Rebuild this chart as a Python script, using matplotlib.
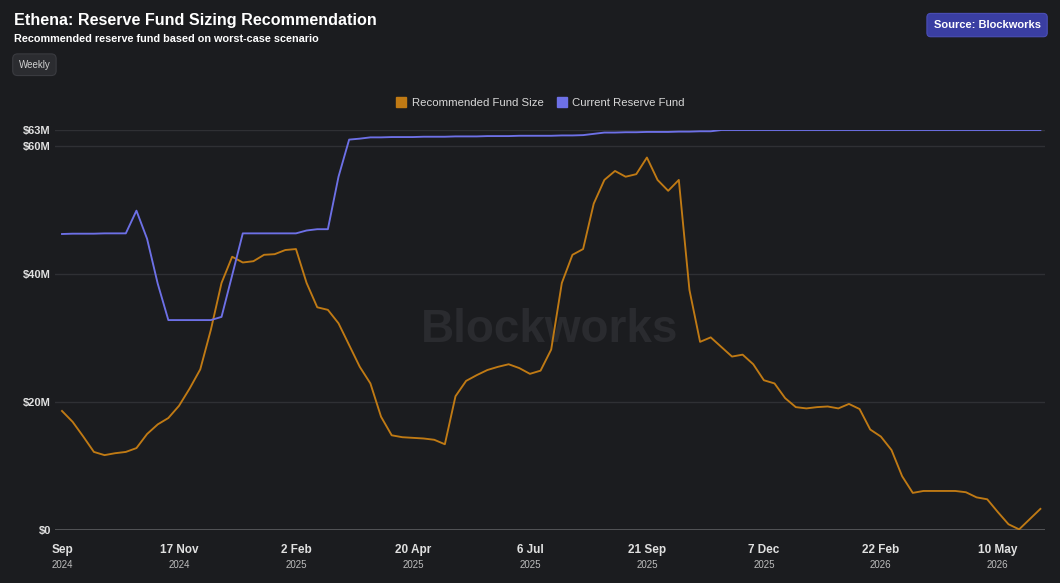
import matplotlib.pyplot as plt
import pandas as pd

# weekly series, starting Sun 1 Sep 2024 (values in $M)
recommended = [
    18.6, 16.9, 14.6, 12.2, 11.7, 12.0, 12.2, 12.8, 15.0, 16.5,
    17.5, 19.4, 22.1, 25.1, 31.3, 38.6, 42.7, 41.8, 42.0, 43.0,
    43.1, 43.75, 43.9, 38.6, 34.8, 34.4, 32.3, 28.9, 25.5, 22.9,
    17.7, 14.8, 14.5, 14.4, 14.3, 14.1, 13.4, 20.9, 23.3, 24.2,
    25.0, 25.5, 25.9, 25.3, 24.4, 24.9, 28.2, 38.6, 43.0, 43.9,
    51.0, 54.7, 56.1, 55.2, 55.6, 58.2, 54.7, 53.0, 54.7, 37.5,
    29.4, 30.1, 28.6, 27.1, 27.4, 25.9, 23.4, 22.9, 20.6, 19.2,
    19.0, 19.2, 19.3, 19.0, 19.7, 18.9, 15.7, 14.6, 12.5, 8.4,
    5.8, 6.1, 6.1, 6.1, 6.1, 5.9, 5.1, 4.8, 2.8, 0.9,
    0.1, 1.7, 3.3,
]
current = [
    46.25, 46.3, 46.3, 46.3, 46.35, 46.35, 46.35, 49.9, 45.5, 38.5,
    32.8, 32.8, 32.8, 32.8, 32.8, 33.3, 39.8, 46.35, 46.35, 46.35,
    46.35, 46.35, 46.35, 46.8, 47.0, 47.0, 55.2, 61.0, 61.15, 61.35,
    61.35, 61.4, 61.4, 61.4, 61.45, 61.45, 61.45, 61.5, 61.5, 61.5,
    61.55, 61.55, 61.55, 61.6, 61.6, 61.6, 61.6, 61.65, 61.65, 61.7,
    61.9, 62.1, 62.1, 62.15, 62.15, 62.2, 62.2, 62.2, 62.25, 62.25,
    62.3, 62.3, 62.5, 62.5, 62.5, 62.5, 62.5, 62.5, 62.5, 62.5,
    62.5, 62.5, 62.5, 62.5, 62.5, 62.5, 62.5, 62.5, 62.5, 62.5,
    62.5, 62.5, 62.5, 62.5, 62.5, 62.5, 62.5, 62.5, 62.5, 62.5,
    62.5, 62.5, 62.5,
]
weeks = pd.date_range("2024-09-01", periods=len(recommended), freq="W-SUN")

tick_idx = [0, 11, 22, 33, 44, 55, 66, 77, 88]
tick_month = ["Sep", "17 Nov", "2 Feb", "20 Apr", "6 Jul", "21 Sep", "7 Dec", "22 Feb", "10 May"]
tick_year = ["2024", "2024", "2025", "2025", "2025", "2025", "2025", "2026", "2026"]
y_ticks = [0, 20, 40, 60, 62.5]
y_labels = ["$0", "$20M", "$40M", "$60M", "$63M"]

bg = "#1b1c1f"
orange = "#c07a14"
blue = "#6d70e6"

plt.rcParams["font.family"] = ["Liberation Sans", "DejaVu Sans"]

fig = plt.figure(figsize=(10.6, 5.83), dpi=100, facecolor=bg)
ax = fig.add_axes([0.0519, 0.0909, 0.9339, 0.6861], facecolor=bg)

ax.text(0.5, 0.5, "Blockworks", transform=ax.transAxes, ha="center", va="center",
        fontsize=33, fontweight="bold", color="#2a2b2f", zorder=0)

l1, = ax.plot(weeks, recommended, color=orange, lw=1.35, label="Recommended Fund Size", zorder=3)
l2, = ax.plot(weeks, current, color=blue, lw=1.35, label="Current Reserve Fund", zorder=3)

ax.set_ylim(0, 62.5)
ax.set_xlim(weeks[0] - pd.Timedelta(days=4.6), weeks[-1] + pd.Timedelta(days=3))
ax.set_yticks(y_ticks)
ax.set_yticklabels(y_labels)
for v in y_ticks[1:]:
    ax.axhline(v, color="#2f3034", lw=1, zorder=1)
ax.axhline(0, color="#5c5d61", lw=1.2, zorder=2)

ax.set_xticks([weeks[i] for i in tick_idx])
ax.set_xticklabels(tick_month)
for lbl in ax.get_xticklabels():
    lbl.set_fontweight("bold")
for i, yr in zip(tick_idx, tick_year):
    ax.annotate(yr, xy=(weeks[i], 0), xycoords=("data", "axes fraction"),
                xytext=(0, -21.5), textcoords="offset points", ha="center", va="top",
                fontsize=7, color="#bdbdbd")

ax.tick_params(axis="x", length=0, pad=10, labelsize=8.5, labelcolor="#e0e0e0")
ax.tick_params(axis="y", length=0, pad=3, labelsize=8, labelcolor="#e0e0e0")
for lbl in ax.get_yticklabels():
    lbl.set_fontweight("bold")
for s in ax.spines.values():
    s.set_visible(False)

leg = fig.legend(handles=[l1, l2], loc="center", bbox_to_anchor=(0.51, 0.824), ncol=2,
                 frameon=False, fontsize=8.2, labelcolor="#d8d8d8", handlelength=0.8,
                 handletextpad=0.5, columnspacing=1.2)
for h, c in zip(leg.legend_handles, [orange, blue]):
    h.set_linestyle("")
    h.set_marker("s")
    h.set_markersize(7)
    h.set_markerfacecolor(c)
    h.set_markeredgecolor(c)

fig.text(0.0132, 0.965, "Ethena: Reserve Fund Sizing Recommendation", fontsize=11.6,
         fontweight="bold", color="white", va="center")
fig.text(0.0132, 0.933, "Recommended reserve fund based on worst-case scenario", fontsize=7.8,
         fontweight="bold", color="white", va="center")
fig.text(0.0175, 0.889, "Weekly", fontsize=7, color="#d0d0d0", va="center",
         bbox=dict(boxstyle="round,pad=0.6,rounding_size=0.5", fc="#2b2c30", ec="#3a3b40", lw=0.8))
fig.text(0.9312, 0.957, "Source: Blockworks", fontsize=8, fontweight="bold", color="white",
         va="center", ha="center",
         bbox=dict(boxstyle="round,pad=0.6,rounding_size=0.35", fc="#3a3ea2", ec="#4a4eb5", lw=0.8))

fig.savefig("out.png", dpi=100, facecolor=bg)
